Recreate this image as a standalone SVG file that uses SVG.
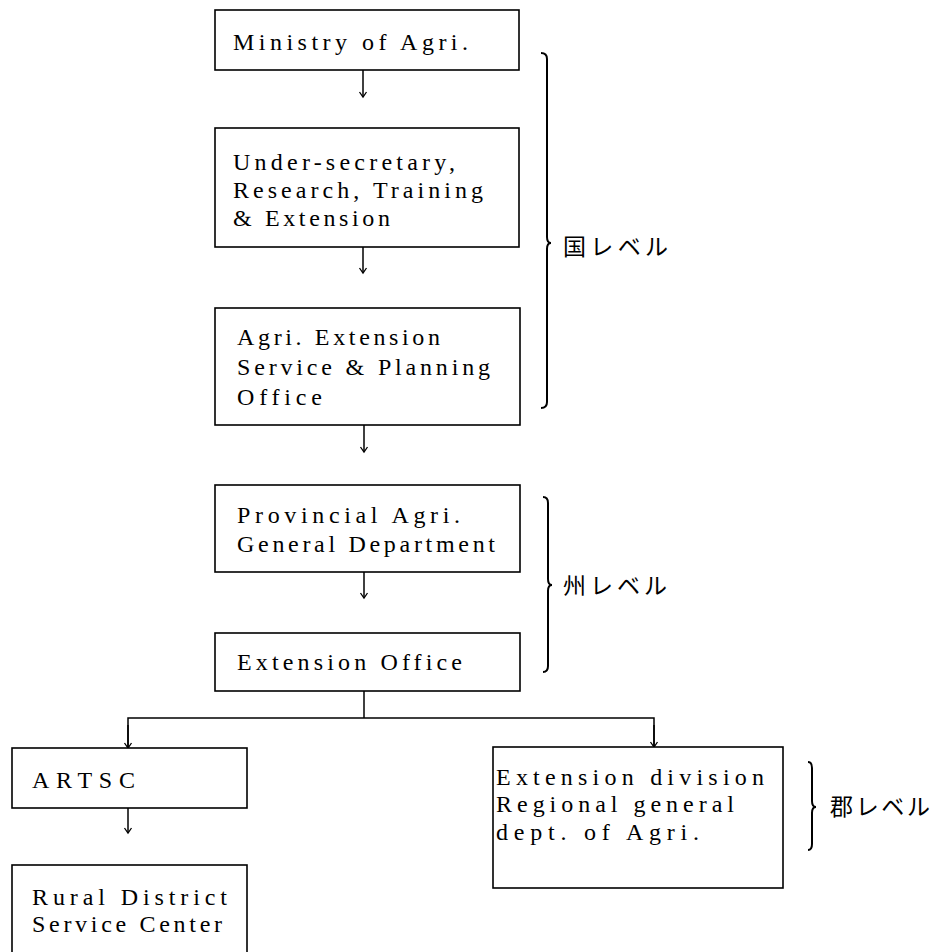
<svg xmlns="http://www.w3.org/2000/svg" width="945" height="952" viewBox="0 0 945 952">
<defs>
<marker id="ah" markerWidth="10" markerHeight="10" refX="8" refY="5" orient="auto" markerUnits="userSpaceOnUse">
<polyline points="3,1.5 8,5 3,8.5" fill="none" stroke="#000" stroke-width="1.3"/>
</marker>
<style>
rect.box{fill:#fff;stroke:#000;stroke-width:1.6}
text.t{font-family:"Liberation Serif","DejaVu Serif",serif;font-size:24px;fill:#000}
text.j{font-family:"Noto Sans CJK JP","Noto Sans CJK SC",sans-serif;font-size:23px;fill:#000}
.c{fill:none;stroke:#000;stroke-width:1.5}
.br{fill:none;stroke:#000;stroke-width:2}
</style>
</defs>
<rect width="945" height="952" fill="#fff"/>
<g id="connectors">
<line class="c" x1="363" y1="70" x2="363" y2="97" marker-end="url(#ah)"/>
<line class="c" x1="363" y1="247" x2="363" y2="273" marker-end="url(#ah)"/>
<line class="c" x1="364" y1="425" x2="364" y2="452" marker-end="url(#ah)"/>
<line class="c" x1="364" y1="572" x2="364" y2="598" marker-end="url(#ah)"/>
<polyline class="c" points="364,691 364,718"/>
<polyline class="c" points="128,748 128,718 654,718 654,747"/>
<line class="c" x1="128" y1="725" x2="128" y2="748" marker-end="url(#ah)"/>
<line class="c" x1="654" y1="725" x2="654" y2="747" marker-end="url(#ah)"/>
<line class="c" x1="128" y1="808" x2="128" y2="833" marker-end="url(#ah)"/>
</g>
<g id="n-ministry">
<rect class="box" x="215" y="10" width="304" height="60"/>
<text class="t" x="233" y="50" textLength="235" lengthAdjust="spacing">Ministry of Agri.</text>
</g>
<g id="n-undersecretary">
<rect class="box" x="215" y="128" width="304" height="119"/>
<text class="t" x="233" y="170" textLength="222" lengthAdjust="spacing">Under-secretary,</text>
<text class="t" x="233" y="198" textLength="250" lengthAdjust="spacing">Research, Training</text>
<text class="t" x="233" y="226" textLength="157" lengthAdjust="spacing">&amp; Extension</text>
</g>
<g id="n-aesp">
<rect class="box" x="215" y="308" width="305" height="117"/>
<text class="t" x="237" y="345" textLength="203" lengthAdjust="spacing">Agri. Extension</text>
<text class="t" x="237" y="375" textLength="253" lengthAdjust="spacing">Service &amp; Planning</text>
<text class="t" x="237" y="405" textLength="85" lengthAdjust="spacing">Office</text>
</g>
<g id="n-provincial">
<rect class="box" x="215" y="485" width="305" height="87"/>
<text class="t" x="237" y="523" textLength="223" lengthAdjust="spacing">Provincial Agri.</text>
<text class="t" x="237" y="552" textLength="258" lengthAdjust="spacing">General Department</text>
</g>
<g id="n-extoffice">
<rect class="box" x="215" y="633" width="305" height="58"/>
<text class="t" x="237" y="670" textLength="225" lengthAdjust="spacing">Extension Office</text>
</g>
<g id="n-artsc">
<rect class="box" x="12" y="748" width="235" height="60"/>
<text class="t" x="32" y="788" textLength="103" lengthAdjust="spacing">ARTSC</text>
</g>
<g id="n-rural">
<rect class="box" x="12" y="865" width="235" height="100"/>
<text class="t" x="32" y="905" textLength="195" lengthAdjust="spacing">Rural District</text>
<text class="t" x="32" y="932" textLength="190" lengthAdjust="spacing">Service Center</text>
</g>
<g id="n-extdivision">
<rect class="box" x="493" y="747" width="290" height="141"/>
<text class="t" x="496" y="785" textLength="268" lengthAdjust="spacing">Extension division</text>
<text class="t" x="496" y="812" textLength="238" lengthAdjust="spacing">Regional general</text>
<text class="t" x="496" y="840" textLength="203" lengthAdjust="spacing">dept. of Agri.</text>
</g>
<g id="level-national">
<path class="br" d="M541,53 Q547,53 547,59 L547,237 Q547,243 551,243 Q547,243 547,249 L547,402 Q547,408 541,408"/>
<text class="j" x="563" y="255" textLength="105" lengthAdjust="spacing">国レベル</text>
</g>
<g id="level-province">
<path class="br" d="M543,497 Q548,497 548,503 L548,579 Q548,585 552,585 Q548,585 548,591 L548,666 Q548,672 543,672"/>
<text class="j" x="563" y="594" textLength="104" lengthAdjust="spacing">州レベル</text>
</g>
<g id="level-district">
<path class="br" d="M808,762 Q812,762 812,768 L812,801 Q812,807 816,807 Q812,807 812,813 L812,844 Q812,850 808,850"/>
<text class="j" x="830" y="815" textLength="100" lengthAdjust="spacing">郡レベル</text>
</g>
</svg>
